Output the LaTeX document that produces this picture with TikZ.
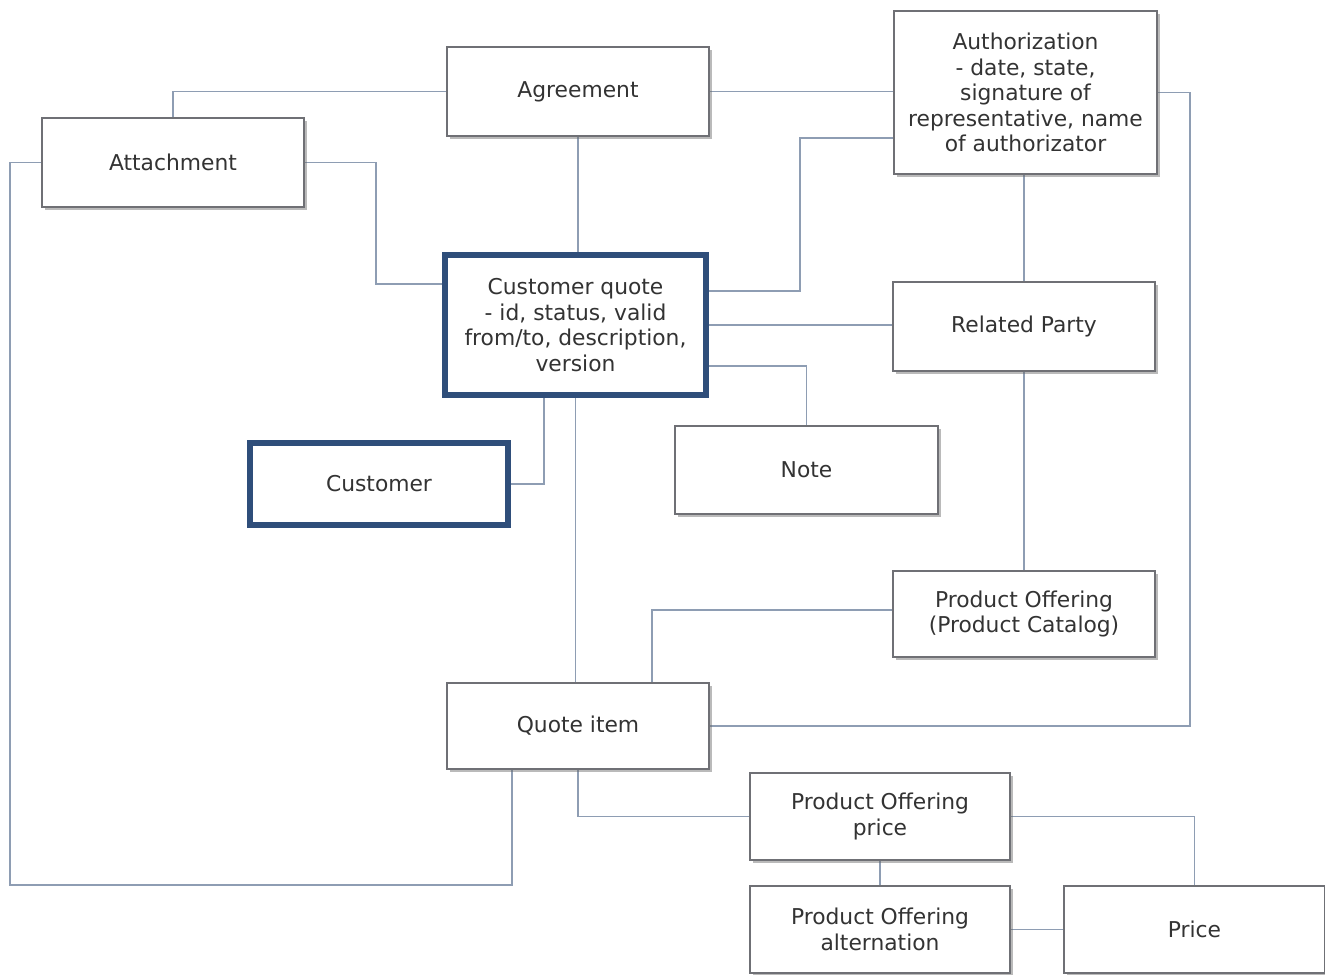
\documentclass[tikz,border=0pt]{standalone}
\usepackage{fontspec}
\setmainfont{DejaVu Sans}
\usetikzlibrary{shadows,backgrounds}
\definecolor{boxline}{HTML}{6F7075}
\definecolor{thickline}{HTML}{2F4E7A}
\definecolor{conn}{HTML}{8E9DB3}
\definecolor{txt}{HTML}{333333}
\tikzset{
  box/.style={draw=boxline, line width=1.1pt, fill=white, align=center, text=txt,
    font=\fontsize{10.9}{12.8}\selectfont, inner sep=0pt,
    drop shadow={shadow xshift=1.5pt, shadow yshift=-1.5pt, opacity=0.45, fill=black!60}},
  keybox/.style={box, draw=thickline, line width=3pt},
  link/.style={draw=conn, line width=0.85pt}
}
\begin{document}
\begin{tikzpicture}[x=0.5pt,y=-0.5pt]
\useasboundingbox (0,0) rectangle (1325,974);
\clip (0,0) rectangle (1325,974);
% nodes
\node[box, minimum width=131pt, minimum height=44.5pt] (agr) at (578,91.5) {Agreement};
\node[box, minimum width=131.5pt, minimum height=81.5pt] (auth) at (1025.5,92.5) {Authorization\\- date, state,\\signature of\\representative, name\\of authorizator};
\node[box, minimum width=131pt, minimum height=44.5pt] (att) at (173,162.5) {Attachment};
\node[keybox, minimum width=130.5pt, minimum height=70pt] (cq) at (575.5,325) {Customer quote\\- id, status, valid\\from/to, description,\\version};
\node[box, minimum width=131pt, minimum height=44.5pt] (rp) at (1024,326.5) {Related Party};
\node[keybox, minimum width=129pt, minimum height=41pt] (cust) at (379,484) {Customer};
\node[box, minimum width=131.5pt, minimum height=44pt] (note) at (806.5,470) {Note};
\node[box, minimum width=131pt, minimum height=43pt] (poc) at (1024,614) {Product Offering\\(Product Catalog)};
\node[box, minimum width=131pt, minimum height=43pt] (qi) at (578,726) {Quote item};
\node[box, minimum width=130pt, minimum height=43.5pt] (pop) at (880,816.5) {Product Offering\\price};
\node[box, minimum width=130pt, minimum height=43.5pt] (poa) at (880,929.5) {Product Offering\\alternation};
\node[box, minimum width=130.5pt, minimum height=43.5pt] (price) at (1194.5,929.5) {Price};
% helper coordinates
\coordinate (c4) at (376,284);
\coordinate (c5a) at (10,885);
\coordinate (c5b) at (512,885);
\coordinate (c6a) at (800,291);
\coordinate (c6b) at (800,138);
\coordinate (c8) at (806.5,366);
\coordinate (c9) at (544,484);
\coordinate (c12) at (1190,726);
\coordinate (c14) at (652,610);
% connectors
\begin{scope}[on background layer]
\draw[link] (agr.west) -| (att.north);
\draw[link] (agr.east) -- (auth.west|-agr.east);
\draw[link] (agr.south) -- (agr.south|-cq.north);
\draw[link] (att.east) -| (c4) -- (c4-|cq.west);
\draw[link] (att.west) -| (c5a) -- (c5b) -- (c5b|-qi.south);
\draw[link] (cq.east|-c6a) -- (c6a) -- (c6b) -- (c6b-|auth.west);
\draw[link] (cq.east) -- (rp.west|-cq.east);
\draw[link] (cq.east|-c8) -- (c8) -- (note.north);
\draw[link] (c9|-cq.south) -- (c9) -- (cust.east);
\draw[link] (cq.south) -- (cq.south|-qi.north);
\draw[link] (rp.north) -- (rp.north|-auth.south);
\draw[link] (auth.east) -| (c12) -- (qi.east);
\draw[link] (rp.south) -- (poc.north);
\draw[link] (poc.west|-c14) -- (c14) -- (c14|-qi.north);
\draw[link] (qi.south) |- (pop.west);
\draw[link] (pop.east) -| (price.north);
\draw[link] (pop.south) -- (poa.north);
\draw[link] (poa.east) -- (price.west);
\end{scope}
\end{tikzpicture}
\end{document}
